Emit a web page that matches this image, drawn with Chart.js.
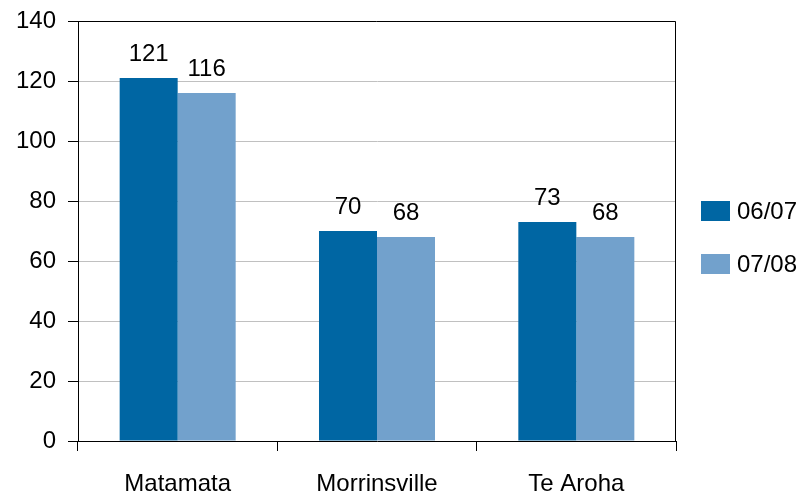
<!DOCTYPE html>
<html>
<head>
<meta charset="utf-8">
<script src="https://cdn.jsdelivr.net/npm/chart.js@4.4.1/dist/chart.umd.min.js"></script>
<style>
  html, body { margin: 0; padding: 0; background: #fff; }
  canvas { display: block; }
</style>
</head>
<body>
<canvas id="chart" width="807" height="495"></canvas>
<script>
const towns = ["Matamata", "Morrinsville", "Te Aroha"];
const seriesNames = ["06/07", "07/08"];
const values0607 = [121, 70, 73];
const values0708 = [116, 68, 68];
const yTicks = [0, 20, 40, 60, 80, 100, 120, 140];

const FONT = "'Liberation Sans', Arial, sans-serif";

// value labels above each bar, plot frame and the legend on the right
const extras = {
  id: "extras",
  afterDatasetsDraw(chart) {
    const ctx = chart.ctx;
    ctx.save();
    ctx.fillStyle = "#000";
    ctx.font = "24px " + FONT;
    ctx.textAlign = "center";
    ctx.textBaseline = "alphabetic";
    chart.data.datasets.forEach((ds, i) => {
      chart.getDatasetMeta(i).data.forEach((bar, j) => {
        ctx.fillText(ds.data[j], bar.x, bar.y - 17);
      });
    });
    ctx.restore();
  },
  afterDraw(chart) {
    const ctx = chart.ctx;
    const a = chart.chartArea;
    ctx.save();
    ctx.strokeStyle = "#000";
    ctx.lineWidth = 1;
    ctx.beginPath();
    ctx.moveTo(Math.round(a.left) - 0.5, Math.round(a.top) + 0.5);
    ctx.lineTo(Math.round(a.right) - 0.5, Math.round(a.top) + 0.5);
    ctx.lineTo(Math.round(a.right) - 0.5, Math.round(a.bottom));
    ctx.stroke();

    // legend
    ctx.font = "24px " + FONT;
    ctx.textAlign = "left";
    ctx.textBaseline = "middle";
    chart.data.datasets.forEach((ds, i) => {
      const y = 201 + i * 53;
      ctx.fillStyle = ds.backgroundColor;
      ctx.fillRect(701, y, 29, 20);
      ctx.fillStyle = "#000";
      ctx.fillText(ds.label, 737, y + 11);
    });
    ctx.restore();
  }
};

new Chart(document.getElementById("chart"), {
  type: "bar",
  data: {
    labels: towns,
    datasets: [
      { label: seriesNames[0], data: values0607, backgroundColor: "#0066A3" },
      { label: seriesNames[1], data: values0708, backgroundColor: "#72A1CC" }
    ]
  },
  options: {
    responsive: false,
    animation: false,
    layout: { padding: { top: 21, right: 131, left: 0, bottom: 0 } },
    datasets: { bar: { categoryPercentage: 0.582, barPercentage: 1.0 } },
    plugins: {
      legend: { display: false },
      tooltip: { enabled: false }
    },
    scales: {
      x: {
        grid: {
          offset: true,
          drawOnChartArea: false,
          drawTicks: true,
          tickLength: 10,
          tickColor: "#000"
        },
        border: { color: "#000", width: 1 },
        ticks: {
          color: "#000",
          font: { family: FONT, size: 24 },
          padding: 19,
          maxRotation: 0
        },
        afterFit(scale) { scale.height = 54; }
      },
      y: {
        min: 0,
        max: 140,
        afterBuildTicks(scale) { scale.ticks = yTicks.map(v => ({ value: v })); },
        grid: {
          color: "#C0C0C0",
          drawTicks: true,
          tickLength: 10,
          tickColor: "#000"
        },
        border: { color: "#000", width: 1 },
        ticks: {
          color: "#000",
          font: { family: FONT, size: 24 },
          padding: 12
        },
        afterFit(scale) {
          scale.width = 78;
          scale.paddingTop = 0;
          scale.paddingBottom = 0;
        }
      }
    }
  },
  plugins: [extras]
});
</script>
</body>
</html>
